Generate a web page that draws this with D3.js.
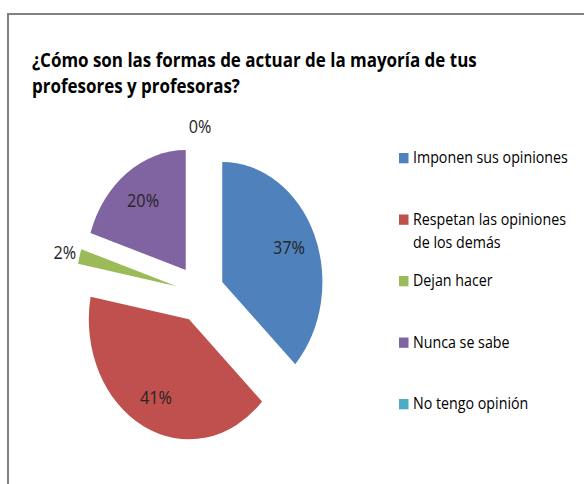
<!DOCTYPE html>
<html>
<head>
<meta charset="utf-8">
<script src="https://cdn.jsdelivr.net/npm/d3@7"></script>
<style>
  html, body { margin: 0; padding: 0; background: #fff; }
  svg { display: block; }
</style>
</head>
<body>
<svg id="chart" width="584" height="484"></svg>
<script>
// ---- data ----
const titleLines = ["¿Cómo son las formas de actuar de la mayoría de tus", "profesores y profesoras?"];
const categories = ["Imponen sus opiniones", "Respetan las opiniones de los demás", "Dejan hacer", "Nunca se sabe", "No tengo opinión"];
const legendLines = [["Imponen sus opiniones"], ["Respetan las opiniones", "de los demás"], ["Dejan hacer"], ["Nunca se sabe"], ["No tengo opinión"]];
const values = [37, 41, 2, 20, 0];
const valueLabels = ["37%", "41%", "2%", "20%", "0%"];
const colors = ["#4F81BD", "#C0504D", "#9BBB59", "#8064A2", "#4BACC6"];

// ---- layout ----
const W = 584, H = 484;
const svg = d3.select("#chart");
const cx = 200, cy = 293.5, R = 120, squash = 0.835, explode = 29;
const rIn = 87, rOut = 138;
const FONT = "'Open Sans', 'DejaVu Sans', sans-serif";

// frame
svg.append("path")
  .attr("d", `M8,${H} L8,14 L${W},14`)
  .attr("fill", "none").attr("stroke", "#828282").attr("stroke-width", 2);

// helper for horizontally-condensed text fitting a target width
function fitText(sel, target) {
  const w = sel.node().getComputedTextLength();
  return target / w;
}

// title
const titleG = svg.append("g");
const t0 = titleG.append("text").text(titleLines[0])
  .attr("font-family", FONT).attr("font-weight", "bold").attr("font-size", 19).attr("fill", "#000");
const titleScale = fitText(t0, 445);
t0.remove();
titleLines.forEach((ln, i) => {
  titleG.append("text").text(ln)
    .attr("font-family", FONT).attr("font-weight", "bold").attr("font-size", 19).attr("fill", "#000")
    .attr("transform", `translate(32,${66.5 + i * 26}) scale(${titleScale},1)`);
});

// pie
const pie = d3.pie().sort(null).value(d => d)(values);
const arc = d3.arc().innerRadius(0).outerRadius(R);
const pieG = svg.append("g").attr("transform", `translate(${cx},${cy}) scale(${squash},1)`);
function dirOf(d) {
  const a = (d.startAngle + d.endAngle) / 2;
  return [Math.sin(a), -Math.cos(a)];
}
pieG.selectAll("path.slice").data(pie).join("path")
  .attr("class", "slice")
  .attr("d", arc)
  .attr("fill", (d, i) => colors[i])
  .attr("transform", d => { const [dx, dy] = dirOf(d); return `translate(${dx * explode},${dy * explode})`; });

// data labels
const lab0 = svg.append("text").text("37%").attr("font-family", FONT).attr("font-size", 19);
const labelScale = fitText(lab0, 32);
lab0.remove();
svg.append("g").selectAll("text").data(pie).join("text")
  .text((d, i) => valueLabels[i])
  .attr("font-family", FONT).attr("font-size", 19).attr("fill", "#262626")
  .attr("text-anchor", "middle").attr("dy", "0.36em")
  .attr("transform", d => {
    const [dx, dy] = dirOf(d);
    const r = (d.data >= 5 ? rIn : rOut) + explode;
    const x = cx + squash * dx * r, y = cy + dy * r;
    return `translate(${x},${y}) scale(${labelScale},1)`;
  });

// legend
const legY = d3.scalePoint().domain(categories).range([163.3, 409.3]);
const lg0 = svg.append("text").text(legendLines[0][0]).attr("font-family", FONT).attr("font-size", 15.5);
const legendScale = fitText(lg0, 155);
lg0.remove();
const legend = svg.append("g").selectAll("g").data(categories).join("g")
  .attr("transform", d => `translate(399,${legY(d)})`);
legend.append("rect")
  .attr("x", 0).attr("y", -10.3).attr("width", 9.5).attr("height", 10.3)
  .attr("fill", (d, i) => colors[i]);
legend.each(function(d, i) {
  const g = d3.select(this);
  legendLines[i].forEach((ln, j) => {
    g.append("text").text(ln)
      .attr("font-family", FONT).attr("font-size", 15.5).attr("fill", "#000")
      .attr("transform", `translate(14,${j * 23.6}) scale(${legendScale},1)`);
  });
});
</script>
</body>
</html>
